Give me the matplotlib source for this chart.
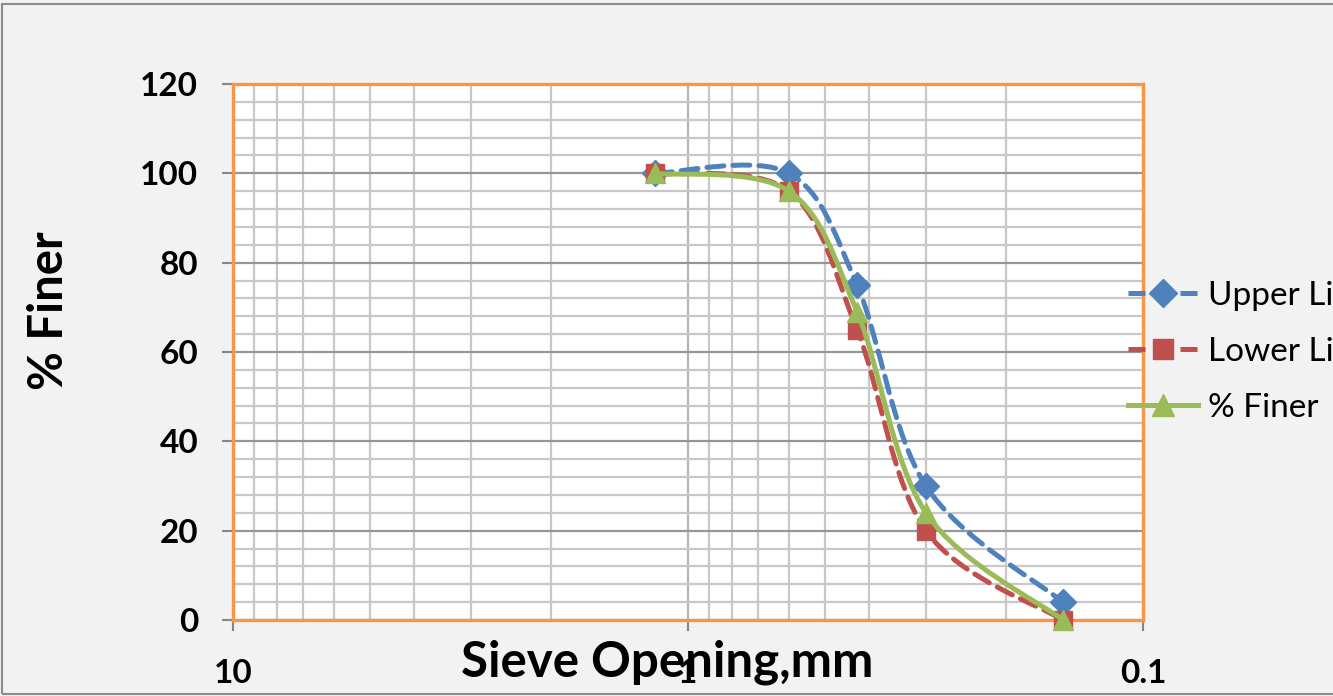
import numpy as np
import matplotlib
matplotlib.use("Agg")
import matplotlib.pyplot as plt
from matplotlib.path import Path
from matplotlib.patches import PathPatch, Rectangle
from matplotlib.lines import Line2D
from matplotlib.ticker import FixedLocator, MultipleLocator, LogLocator, NullFormatter

# ---- data ----
sieve_mm = [1.18, 0.6, 0.425, 0.3, 0.15]
upper_limit = [100, 100, 75, 30, 4]
lower_limit = [100, 96, 65, 20, 0]
pct_finer = [100, 96, 69, 24, 0]
series_names = ["Upper Limit", "Lower Limit", "% Finer"]
x_ticks = [10, 1, 0.1]
x_tick_labels = ["10", "1", "0.1"]
y_ticks = [0, 20, 40, 60, 80, 100, 120]

plt.rcParams['font.family'] = ['Lato', 'DejaVu Sans']

W, H = 1333, 696
fig = plt.figure(figsize=(W / 100, H / 100), dpi=100)
fig.patch.set_facecolor('#F2F2F2')

# outer chart border
fig.patches.append(Rectangle((2 / W, 2 / H), 1.2, (H - 6) / H, transform=fig.transFigure,
                             fill=False, edgecolor='#8C8C8C', linewidth=1.5, zorder=0))

L, R, T, B = 233, 1143, 84, 620
ax = fig.add_axes([L / W, (H - B) / H, (R - L) / W, (B - T) / H])
ax.set_facecolor('white')
ax.set_xscale('log')
ax.set_xlim(10, 0.1)
ax.set_ylim(0, 120)


def smooth_path(xs, ys):
    u = np.log10(np.asarray(xs, float))
    v = np.asarray(ys, float)
    n = len(u)
    verts = [(xs[0], ys[0])]
    codes = [Path.MOVETO]
    for i in range(n - 1):
        i0 = max(i - 1, 0)
        i3 = min(i + 2, n - 1)
        c1u = u[i] + (u[i + 1] - u[i0]) / 6
        c1v = v[i] + (v[i + 1] - v[i0]) / 6
        c2u = u[i + 1] - (u[i3] - u[i]) / 6
        c2v = v[i + 1] - (v[i3] - v[i]) / 6
        verts += [(10 ** c1u, c1v), (10 ** c2u, c2v), (xs[i + 1], ys[i + 1])]
        codes += [Path.CURVE4] * 3
    return Path(verts, codes)


styles = [
    dict(color='#4F81BD', ls=(0, (3.4, 1.8)), marker='D', ms=13),
    dict(color='#C0504D', ls=(0, (3.4, 1.8)), marker='s', ms=13),
    dict(color='#9BBB59', ls='-', marker='^', ms=15),
]
lw = 3.6
handles = []
for k, (ys, st) in enumerate(zip([upper_limit, lower_limit, pct_finer], styles)):
    z = 3 + k
    patch = PathPatch(smooth_path(sieve_mm, ys), fill=False, edgecolor=st['color'],
                      linewidth=lw, linestyle=st['ls'], zorder=z, capstyle='round')
    ax.add_patch(patch)
    ax.plot(sieve_mm, ys, ls='none', marker=st['marker'], ms=st['ms'],
            color=st['color'], mec=st['color'], zorder=z + 0.5, clip_on=False)
    handles.append(Line2D([], [], color=st['color'], ls=st['ls'], lw=lw,
                          marker=st['marker'], ms=st['ms'] + 1, mec=st['color']))

# ticks & grid
ax.xaxis.set_major_locator(FixedLocator(x_ticks))
ax.set_xticklabels(x_tick_labels)
ax.xaxis.set_minor_locator(LogLocator(base=10, subs=np.arange(2, 10)))
ax.xaxis.set_minor_formatter(NullFormatter())
ax.yaxis.set_major_locator(FixedLocator(y_ticks))
ax.yaxis.set_minor_locator(MultipleLocator(4))
ax.grid(axis='y', which='major', color='#969696', linewidth=1.6, zorder=1)
ax.grid(axis='x', which='major', color='#B4B4B4', linewidth=1.6, zorder=1)
ax.grid(which='minor', color='#C8C8C8', linewidth=1.6, zorder=1)
ax.set_axisbelow(True)

ax.tick_params(which='minor', length=0)
ax.tick_params(axis='y', which='major', length=8, width=1.5, color='#868686', pad=17,
               labelsize=24)
ax.tick_params(axis='x', which='major', length=8, width=1.5, color='#868686', pad=20,
               labelsize=24)
for lab in ax.get_xticklabels() + ax.get_yticklabels():
    lab.set_fontweight('bold')

for sp in ax.spines.values():
    sp.set_color('#F79646')
    sp.set_linewidth(2.4)
    sp.set_zorder(2.5)

ax.set_xlabel('Sieve Opening,mm', fontsize=35.5, fontweight='bold')
ax.xaxis.label.set_va('center')
ax.xaxis.set_label_coords(0.477, -0.078)
ax.set_ylabel('% Finer', fontsize=34, fontweight='bold')
ax.yaxis.label.set_va('center')
ax.yaxis.set_label_coords(-0.202, 0.578)

fig.legend(handles, series_names, loc='center left',
           bbox_to_anchor=(1128 / W, 1 - 352 / H), frameon=False, fontsize=24,
           handlelength=2.1, handletextpad=0.3, labelspacing=0.78, borderpad=0,
           borderaxespad=0, numpoints=1)

fig.savefig('out.png', dpi=100, facecolor=fig.get_facecolor())
